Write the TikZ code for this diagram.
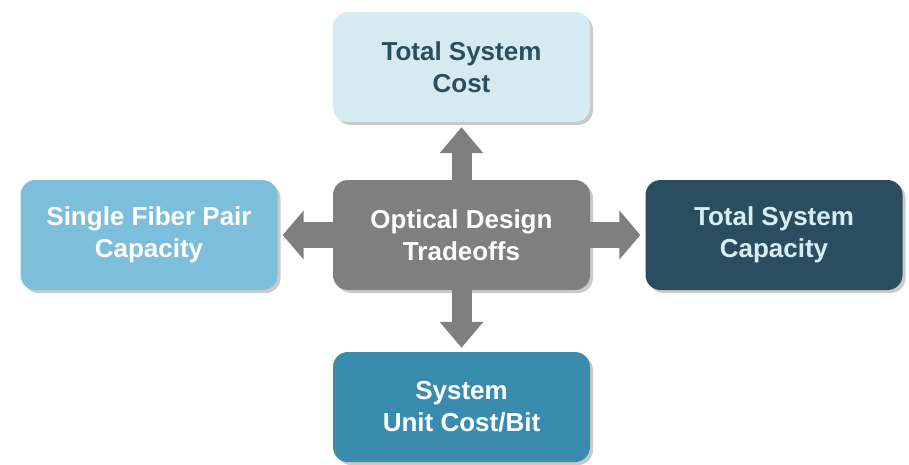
\documentclass[tikz,border=0pt]{standalone}
\usepackage{fontspec}
\setmainfont{Liberation Sans}
\usetikzlibrary{arrows.meta,shadows}
\definecolor{cTop}{HTML}{D6EAF2}
\definecolor{cTopTxt}{HTML}{2B4F5F}
\definecolor{cLeft}{HTML}{7DBFDA}
\definecolor{cRight}{HTML}{2A4E60}
\definecolor{cRightTxt}{HTML}{D6EEF5}
\definecolor{cBot}{HTML}{3A8CAE}
\definecolor{cGray}{HTML}{7F7F7F}
\tikzset{
  box/.style={rounded corners=15pt, minimum width=257pt, minimum height=110pt,
    align=center, font=\fontsize{26}{32}\selectfont\bfseries, inner sep=0pt,
    drop shadow={shadow xshift=3pt, shadow yshift=-3pt, opacity=0.35, fill=black!60}},
  varrow/.style={draw=cGray, line width=20pt, -{Triangle[width=42pt,length=26pt]}},
  harrow/.style={draw=cGray, line width=26pt, -{Triangle[width=48pt,length=21pt]}},
}
\begin{document}
\begin{tikzpicture}[x=1pt,y=-1pt]
\useasboundingbox (0,0) rectangle (909,465);
\node[box, fill=cGray, text=white] (c) at (461.5,235) {Optical Design\\Tradeoffs};
\node[box, fill=cTop, text=cTopTxt] (t) at (461.5,67) {Total System\\Cost};
\node[box, fill=cLeft, text=white] (l) at (149,235) {Single Fiber Pair\\Capacity};
\node[box, fill=cRight, text=cRightTxt] (r) at (774,235) {Total System\\Capacity};
\node[box, fill=cBot, text=white] (b) at (461.5,407) {System\\Unit Cost/Bit};
\draw[varrow, shorten >=5pt] (c.north) -- (t.south);
\draw[varrow, shorten >=4pt] (c.south) -- (b.north);
\draw[harrow, shorten >=5pt] (c.west) -- (l.east);
\draw[harrow, shorten >=5pt] (c.east) -- (r.west);
\end{tikzpicture}
\end{document}
